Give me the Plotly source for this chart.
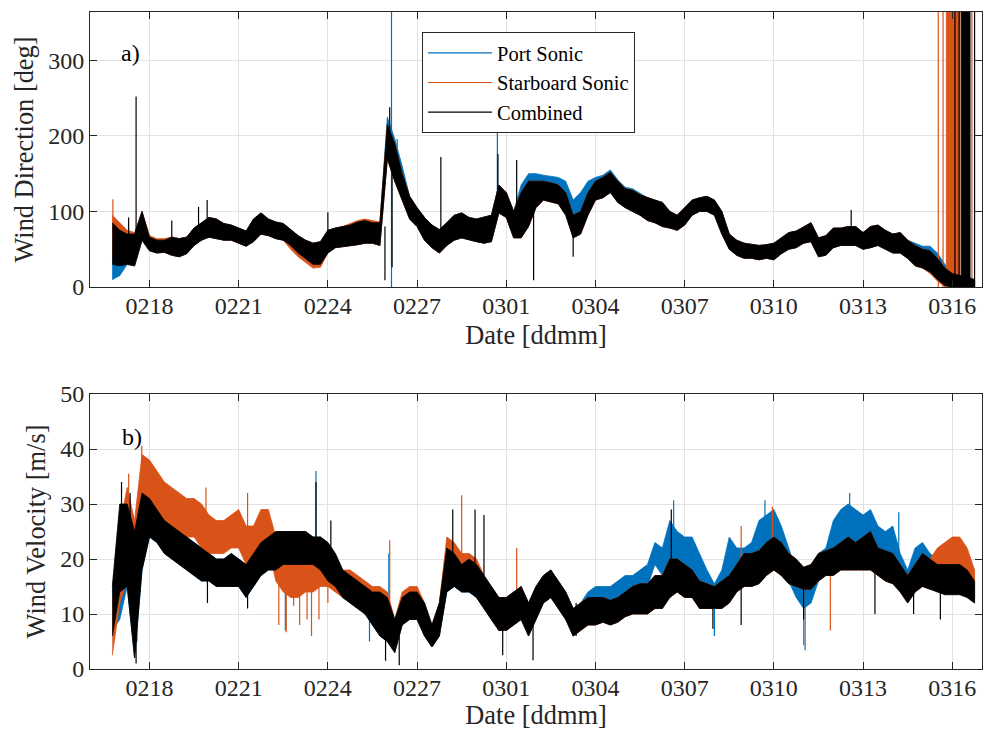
import pandas as pd
import plotly.graph_objects as go

# ---------------- data ----------------
# Time grid: values are min/max envelopes of each 6-hour bin, first bin 16 Feb 2020 18:00
T0 = pd.Timestamp("2020-02-16")
GRID_START_DAY = 0.75
GRID_STEP_DAY = 0.25

SERIES_NAMES = ["Port Sonic", "Starboard Sonic", "Combined"]
TICK_START = "2020-02-18"

# ---- panel a) wind direction [deg] ----
dir_comb_lo = [30, 28, 30, 28, 62, 48, 45, 46,
               42, 40, 44, 55, 62, 66, 64, 62,
               62, 58, 54, 60, 70, 68, 64, 62,
               55, 45, 38, 30, 30, 45, 52, 54,
               55, 56, 58, 58, 55, 170, 140, 115,
               90, 80, 62, 52, 45, 55, 62, 65,
               62, 60, 58, 60, 98, 92, 65, 65,
               80, 105, 115, 112, 110, 95, 65, 70,
               95, 115, 118, 125, 112, 105, 100, 95,
               88, 85, 80, 78, 75, 82, 95, 100,
               100, 95, 70, 50, 42, 38, 38, 36,
               38, 36, 44, 50, 52, 58, 60, 40,
               42, 52, 55, 55, 55, 50, 52, 55,
               50, 45, 45, 38, 28, 25, 20, 10,
               2, 0, 0, 0, 0]
dir_comb_hi = [85, 75, 70, 70, 100, 66, 62, 62,
               66, 64, 66, 78, 85, 92, 90, 84,
               82, 78, 74, 90, 98, 90, 86, 84,
               76, 68, 62, 58, 60, 75, 78, 80,
               82, 86, 88, 85, 85, 215, 190, 150,
               120, 105, 92, 82, 76, 85, 95, 98,
               92, 90, 92, 95, 135, 125, 100, 125,
               140, 140, 140, 138, 135, 125, 95, 100,
               125, 140, 145, 152, 140, 130, 128, 122,
               118, 115, 112, 100, 95, 105, 115, 118,
               120, 115, 100, 70, 62, 58, 56, 55,
               56, 58, 65, 72, 74, 80, 85, 65,
               68, 78, 78, 80, 80, 72, 80, 82,
               75, 70, 72, 62, 55, 50, 48, 38,
               25, 18, 15, 12, 10]
dir_port_lo = [10, 15, 30, 28, 62, 48, 45, 46,
               42, 40, 44, 55, 62, 66, 64, 62,
               62, 58, 54, 60, 70, 68, 64, 62,
               55, 45, 38, 30, 30, 45, 52, 54,
               55, 56, 58, 58, 55, 170, 140, 115,
               90, 80, 62, 52, 45, 55, 62, 65,
               62, 60, 58, 60, 98, 92, 65, 70,
               90, 115, 125, 122, 118, 105, 70, 80,
               105, 118, 118, 125, 112, 105, 100, 95,
               88, 85, 80, 78, 75, 82, 95, 100,
               100, 95, 70, 50, 42, 38, 38, 36,
               38, 36, 44, 50, 52, 58, 60, 40,
               42, 52, 55, 55, 55, 50, 52, 55,
               50, 45, 45, 38, 30, 28, 22, 14,
               4, 2, 2, 2, 2]
dir_port_hi = [60, 65, 70, 70, 100, 66, 62, 62,
               66, 64, 66, 78, 85, 92, 90, 84,
               82, 78, 74, 90, 98, 90, 86, 84,
               76, 68, 62, 58, 60, 75, 78, 80,
               82, 86, 88, 85, 85, 225, 196, 160,
               120, 105, 92, 82, 76, 85, 95, 98,
               92, 90, 92, 95, 135, 125, 100, 135,
               150, 150, 148, 146, 145, 140, 115, 125,
               140, 145, 148, 155, 142, 132, 130, 124,
               118, 115, 112, 100, 95, 105, 115, 118,
               120, 115, 100, 70, 62, 58, 56, 55,
               56, 58, 65, 72, 74, 80, 85, 65,
               68, 78, 78, 80, 80, 72, 80, 82,
               75, 70, 72, 62, 58, 54, 54, 45,
               30, 20, 15, 12, 10]
dir_star_lo = [40, 30, 30, 28, 62, 48, 45, 46,
               42, 40, 44, 55, 62, 66, 64, 62,
               62, 58, 54, 60, 70, 68, 64, 62,
               50, 40, 32, 25, 26, 45, 52, 54,
               55, 56, 58, 58, 55, 170, 140, 115,
               90, 80, 62, 52, 45, 55, 62, 65,
               62, 60, 58, 60, 98, 92, 65, 65,
               80, 105, 115, 112, 110, 95, 65, 70,
               95, 115, 118, 125, 112, 105, 100, 95,
               88, 85, 80, 78, 75, 82, 95, 100,
               100, 95, 70, 50, 42, 38, 38, 36,
               38, 36, 44, 50, 52, 58, 60, 40,
               42, 52, 55, 55, 55, 50, 52, 55,
               50, 45, 45, 38, 28, 25, 18, 8,
               0, 0, 0, 0, 0]
dir_star_hi = [95, 85, 75, 72, 100, 68, 64, 64,
               66, 64, 66, 78, 85, 92, 90, 84,
               82, 78, 74, 90, 98, 90, 86, 84,
               76, 68, 62, 58, 60, 75, 78, 80,
               84, 88, 90, 88, 86, 215, 190, 150,
               120, 105, 92, 82, 76, 85, 95, 98,
               92, 90, 92, 95, 135, 125, 100, 125,
               140, 140, 140, 138, 135, 125, 95, 100,
               125, 140, 145, 152, 140, 130, 128, 122,
               118, 115, 112, 100, 95, 105, 115, 118,
               120, 115, 100, 70, 62, 58, 56, 55,
               56, 58, 65, 72, 74, 80, 85, 65,
               68, 78, 78, 80, 80, 72, 80, 82,
               75, 70, 72, 62, 55, 50, 48, 36,
               20, 15, 12, 10, 8]

# isolated spikes: day offset from 16 Feb, low, high
dir_comb_spk_day = [1.30, 1.55, 2.75, 3.65, 3.94, 8.00, 9.92, 10.08, 10.16, 11.80,
                    13.72, 14.35, 14.92, 16.25, 25.60, 29.09, 29.23, 29.75]
dir_comb_spk_lo = [60, 62, 48, 70, 75, 62, 9, 190, 26, 60, 95, 80, 9, 40, 72, 0, 0, 0]
dir_comb_spk_hi = [92, 252, 88, 106, 115, 99, 80, 238, 180, 172, 176, 168, 110, 80, 102, 364, 364, 364]
dir_port_spk_day = [0.78, 10.14, 10.33, 13.70]
dir_port_spk_lo = [10, 0, 150, 100]
dir_port_spk_hi = [60, 364, 196, 218]
dir_star_spk_day = [0.77, 28.53, 28.69, 29.66]
dir_star_spk_lo = [40, 0, 0, 0]
dir_star_spk_hi = [116, 364, 364, 364]
# intervals where the direction wraps continuously between 0 and 360
dir_star_wrap_start = [28.80]
dir_star_wrap_end = [29.26]
dir_comb_wrap_start = [29.30]
dir_comb_wrap_end = [29.60]
WRAP_LO, WRAP_HI = 0, 364

# ---- panel b) wind velocity [m/s] ----
vel_comb_lo = [6, 14, 15, 2, 18, 24, 23, 21,
               20, 19, 18, 17, 16, 16, 15, 15,
               15, 15, 13, 15, 17, 18, 18, 19,
               19, 19, 19, 19, 18, 16, 15, 13,
               12, 11, 10, 8, 6, 5, 3, 8,
               9, 9, 6, 4, 6, 14, 15, 14,
               14, 13, 11, 9, 7, 7, 8, 9,
               6, 9, 12, 13, 11, 9, 6, 7,
               8, 8, 8.5, 8, 8.5, 9.5, 10, 10,
               10, 11, 11, 13, 14, 13, 13, 11,
               11, 11, 11, 12, 14, 15, 15, 15.5,
               17, 18, 17, 15.5, 15, 14.5, 14.5, 16,
               17, 17, 18, 18, 18, 18, 18, 17,
               16, 15.5, 14, 12, 14, 15, 14.5, 14,
               13.5, 13.5, 13.5, 13, 12]
vel_comb_hi = [15, 30, 30, 25, 32, 31, 29, 27,
               26, 25, 24, 23, 22, 21, 20, 20,
               21, 20, 19, 21, 23, 24, 25, 25,
               25, 25, 25, 24, 24, 23, 21, 18,
               17, 16, 15, 14, 14, 13, 9, 13,
               14, 14, 12, 8, 12, 22, 21, 19,
               20, 19, 17, 15, 13, 13, 14, 15,
               12, 15, 17, 18, 16, 14, 11, 12,
               13, 13, 13, 12.5, 13, 14, 15, 15.5,
               15.5, 17, 17, 20, 20, 19, 18, 16,
               15.5, 15, 16, 17, 19, 21, 21, 21.5,
               23, 24, 23, 21, 20, 18.5, 19, 21,
               21.5, 22, 23, 24, 23, 24, 25, 22,
               21.5, 21, 19, 17, 19, 21, 20, 19,
               19, 19, 19, 18, 16]
vel_port_lo = [7, 9, 15, 2, 18, 24, 23, 21,
               20, 19, 18, 17, 16, 16, 15, 15,
               15, 15, 13, 15, 17, 18, 18, 19,
               19, 19, 19, 19, 18, 16, 15, 13,
               12, 11, 10, 8, 6, 5, 3, 8,
               9, 9, 6, 4, 6, 14, 15, 14,
               14, 13, 11, 9, 7, 7, 8, 9,
               6, 9, 12, 13, 11, 9, 6, 7,
               9, 10, 10, 11, 11, 13, 14, 14.5,
               15, 19, 17, 20, 18, 18, 18, 15,
               13, 11, 12, 17, 16, 16, 17, 21,
               22, 22, 19, 16, 13, 11, 12, 16,
               17, 21, 23, 24, 23, 22, 22, 20,
               19, 19, 15, 13, 16, 17, 16, 15,
               14, 14, 14, 13, 12]
vel_port_hi = [14, 28, 30, 25, 32, 31, 29, 27,
               26, 25, 24, 23, 22, 21, 20, 20,
               21, 20, 19, 21, 23, 24, 25, 25,
               25, 25, 25, 24, 24, 23, 21, 18,
               17, 16, 15, 14, 14, 13, 9, 13,
               14, 14, 12, 8, 12, 22, 21, 19,
               20, 19, 17, 15, 13, 13, 14, 15,
               12, 15, 17, 18, 16, 14, 11, 12,
               14, 15, 15, 15, 16, 17, 17, 18,
               19, 23, 22, 27, 25, 24, 24, 21,
               18, 15.5, 18, 24, 22, 22, 23, 27,
               28, 29, 26, 22, 18, 15, 17, 21,
               22, 27, 29, 30, 29, 28, 29, 26,
               25, 26, 21, 18, 22, 23, 21, 20,
               20, 20, 19, 18, 16]
vel_star_lo = [2.5, 12, 16, 3, 25, 31, 29, 27,
               26, 25, 24, 24, 22, 21, 21, 21,
               22, 22, 19, 19, 22, 22, 16, 14,
               13, 13, 14, 14, 15, 15, 14, 13,
               12, 11, 10, 9, 7, 5, 3, 9,
               10, 9, 6, 4, 6, 15, 16, 16,
               15, 13, 11, 9, 7, 7, 8, 9,
               6, 9, 12, 13, 11, 9, 6, 7,
               8, 8, 8.5, 8, 8.5, 9.5, 10, 10,
               10, 11, 11, 13, 14, 13, 13, 11,
               11, 11, 11, 12, 14, 15, 15, 15.5,
               17, 18, 17, 15.5, 15, 14.5, 14.5, 16,
               17, 17, 18, 18, 18, 18, 18, 17,
               16, 15.5, 14, 12, 14, 15, 14.5, 15,
               16, 17, 17, 16, 13]
vel_star_hi = [12, 26, 33, 27, 39, 38, 36, 34,
               33, 32, 31, 31, 30, 28, 27, 27,
               28, 29, 26, 26, 29, 29, 24, 21,
               20, 20, 21, 20, 21, 22, 20, 18,
               18, 17, 16, 15, 15, 14, 9, 14,
               15, 15, 12, 8, 12, 24, 23, 21,
               21, 20, 17, 15, 13, 13, 14, 15,
               12, 15, 17, 18, 16, 14, 11, 12,
               13, 13, 13, 12.5, 13, 14, 15, 15.5,
               15.5, 17, 17, 20, 20, 19, 18, 16,
               15.5, 15, 16, 17, 19, 21, 21, 21.5,
               23, 24, 23, 21, 20, 18.5, 19, 21,
               21.5, 22, 23, 24, 23, 24, 25, 22,
               21.5, 21, 19, 17, 19, 21, 20, 22,
               23, 24, 24, 22, 18]

vel_comb_spk_day = [1.06, 1.35, 1.55, 3.95, 5.30, 7.60, 8.10, 9.94, 10.40, 12.20, 12.95,
                    13.25, 13.88, 14.90, 16.35, 19.55, 20.95, 21.90, 24.00, 26.40, 27.70, 28.60]
vel_comb_spk_lo = [20, 15, 1, 12, 11, 20, 18, 1.5, 0.7, 18, 15, 14, 2.5, 1.6, 6, 18, 7.3, 8, 9, 10, 10, 9]
vel_comb_spk_hi = [34, 32, 18, 20, 18, 34, 27, 10, 6, 29, 29, 28, 10, 10, 12, 29, 14, 18, 16, 20, 17, 17]
vel_port_spk_day = [1.58, 6.57, 7.60, 9.40, 10.05, 19.63, 21.00, 22.70, 24.05, 25.55, 27.20]
vel_port_spk_lo = [5, 7, 20, 5, 10, 20, 6, 22, 3.4, 24, 20]
vel_port_spk_hi = [19.5, 20, 36, 14, 21, 30.7, 12, 30.7, 12, 32, 28.5]
vel_star_spk_day = [1.30, 1.74, 3.90, 5.30, 6.35, 6.60, 6.85, 7.05, 7.30, 7.45, 7.70, 8.00,
                    10.08, 12.50, 14.35, 21.90, 22.95, 24.00, 24.90]
vel_star_spk_lo = [16, 25, 24, 20, 8, 6.7, 11.5, 8, 9, 6, 9, 12, 12, 18, 10, 15, 18, 4.3, 7]
vel_star_spk_hi = [35.5, 40.6, 33, 32, 20, 18, 20, 20, 20, 19, 21, 20, 23.4, 31.6, 22, 26, 29.5, 14, 17]

# ---------------- figure ----------------
COLORS = ["#0072BD", "#D95319", "#000000"]
FONT = "Liberation Serif"
TXT = "#262626"


def to_time(days):
    return [T0 + pd.to_timedelta(d, unit="D") for d in days]


def band_trace(lo, hi, color, xa, ya):
    n = min(len(lo), len(hi))
    days = [GRID_START_DAY + GRID_STEP_DAY * i for i in range(n)]
    t = to_time(days)
    return go.Scatter(x=t + t[::-1], y=list(hi[:n]) + list(lo[:n])[::-1], mode="lines",
                      fill="toself", fillcolor=color, line=dict(color=color, width=0.8),
                      showlegend=False, hoverinfo="skip", xaxis=xa, yaxis=ya)


def spike_trace(days, lo, hi, color, xa, ya, name=None, legend=False):
    xs, ys = [], []
    for d, a, b in zip(days, lo, hi):
        tt = T0 + pd.to_timedelta(d, unit="D")
        xs += [tt, tt, None]
        ys += [a, b, None]
    return go.Scatter(x=xs, y=ys, mode="lines", line=dict(color=color, width=1.2),
                      name=name, showlegend=legend, legendgroup=name, hoverinfo="skip",
                      xaxis=xa, yaxis=ya)


def wrap_trace(starts, ends, color, xa, ya):
    xs, ys = [], []
    for s, e in zip(starts, ends):
        ts, te = T0 + pd.to_timedelta(s, unit="D"), T0 + pd.to_timedelta(e, unit="D")
        xs += [ts, te, te, ts, ts, None]
        ys += [WRAP_LO, WRAP_LO, WRAP_HI, WRAP_HI, WRAP_LO, None]
    return go.Scatter(x=xs, y=ys, mode="lines", fill="toself", fillcolor=color,
                      line=dict(color=color, width=0.8), showlegend=False,
                      hoverinfo="skip", xaxis=xa, yaxis=ya)


fig = go.Figure()
# panel a
dir_data = [
    (dir_port_lo, dir_port_hi, dir_port_spk_day, dir_port_spk_lo, dir_port_spk_hi, None),
    (dir_star_lo, dir_star_hi, dir_star_spk_day, dir_star_spk_lo, dir_star_spk_hi,
     (dir_star_wrap_start, dir_star_wrap_end)),
    (dir_comb_lo, dir_comb_hi, dir_comb_spk_day, dir_comb_spk_lo, dir_comb_spk_hi,
     (dir_comb_wrap_start, dir_comb_wrap_end)),
]
for k, (lo, hi, sd, sl, sh, wr) in enumerate(dir_data):
    fig.add_trace(band_trace(lo, hi, COLORS[k], "x", "y"))
    if wr is not None:
        fig.add_trace(wrap_trace(wr[0], wr[1], COLORS[k], "x", "y"))
    fig.add_trace(spike_trace(sd, sl, sh, COLORS[k], "x", "y", SERIES_NAMES[k], True))

vel_data = [
    (vel_port_lo, vel_port_hi, vel_port_spk_day, vel_port_spk_lo, vel_port_spk_hi),
    (vel_star_lo, vel_star_hi, vel_star_spk_day, vel_star_spk_lo, vel_star_spk_hi),
    (vel_comb_lo, vel_comb_hi, vel_comb_spk_day, vel_comb_spk_lo, vel_comb_spk_hi),
]
for k, (lo, hi, sd, sl, sh) in enumerate(vel_data):
    fig.add_trace(band_trace(lo, hi, COLORS[k], "x2", "y2"))
    fig.add_trace(spike_trace(sd, sl, sh, COLORS[k], "x2", "y2", SERIES_NAMES[k], False))

H, W = 730, 983
MT, MB, ML, MR = 12, 61, 90, 1
ph = H - MT - MB
top_dom = [(H - MB - 287) / ph, 1.0]
bot_dom = [0.0, (H - MB - 394) / ph]

xr = [T0, T0 + pd.Timedelta(days=30)]
axis_common = dict(showline=True, linecolor=TXT, linewidth=1, mirror="ticks",
                   ticks="inside", ticklen=7, tickcolor=TXT, tickwidth=1,
                   showgrid=True, gridcolor="#e2e2e2", gridwidth=1, zeroline=False,
                   tickfont=dict(family=FONT, size=24, color=TXT), automargin=False)
xcommon = dict(axis_common, type="date", range=xr, tick0=TICK_START, dtick=3 * 86400000,
               tickformat="%m%d", ticklabelstandoff=-3,
               title=dict(text="Date [ddmm]", font=dict(family=FONT, size=26.4, color=TXT),
                          standoff=7))

fig.update_layout(
    width=W, height=H, margin=dict(l=ML, r=MR, t=MT, b=MB),
    paper_bgcolor="white", plot_bgcolor="white", template="none",
    font=dict(family=FONT, color=TXT),
    xaxis=dict(xcommon, domain=[0, 1], anchor="y"),
    yaxis=dict(axis_common, domain=top_dom, anchor="x", range=[0, 364],
               tickvals=[0, 100, 200, 300],
               title=dict(text="Wind Direction [deg]",
                          font=dict(family=FONT, size=26.4, color=TXT), standoff=6)),
    xaxis2=dict(xcommon, domain=[0, 1], anchor="y2"),
    yaxis2=dict(axis_common, domain=bot_dom, anchor="x2", range=[0, 50],
                tickvals=[0, 10, 20, 30, 40, 50],
                title=dict(text="Wind Velocity [m/s]",
                           font=dict(family=FONT, size=26.4, color=TXT), standoff=6)),
    legend=dict(x=(422 - ML) / (W - ML - MR), y=(H - MB - 32) / ph, xanchor="left",
                yanchor="top", bgcolor="white", bordercolor=TXT, borderwidth=1,
                font=dict(family=FONT, size=20.5, color="#000000"), tracegroupgap=0,
                itemwidth=64),
    showlegend=True,
    annotations=[
        dict(text="a)", xref="x domain", yref="y domain", x=0.0325, y=0.851,
             xanchor="left", yanchor="middle", showarrow=False,
             font=dict(family=FONT, size=24, color="#000000")),
        dict(text="b)", xref="x2 domain", yref="y2 domain", x=0.0335, y=0.844,
             xanchor="left", yanchor="middle", showarrow=False,
             font=dict(family=FONT, size=24, color="#000000")),
    ],
)

fig.write_html("out.html")
